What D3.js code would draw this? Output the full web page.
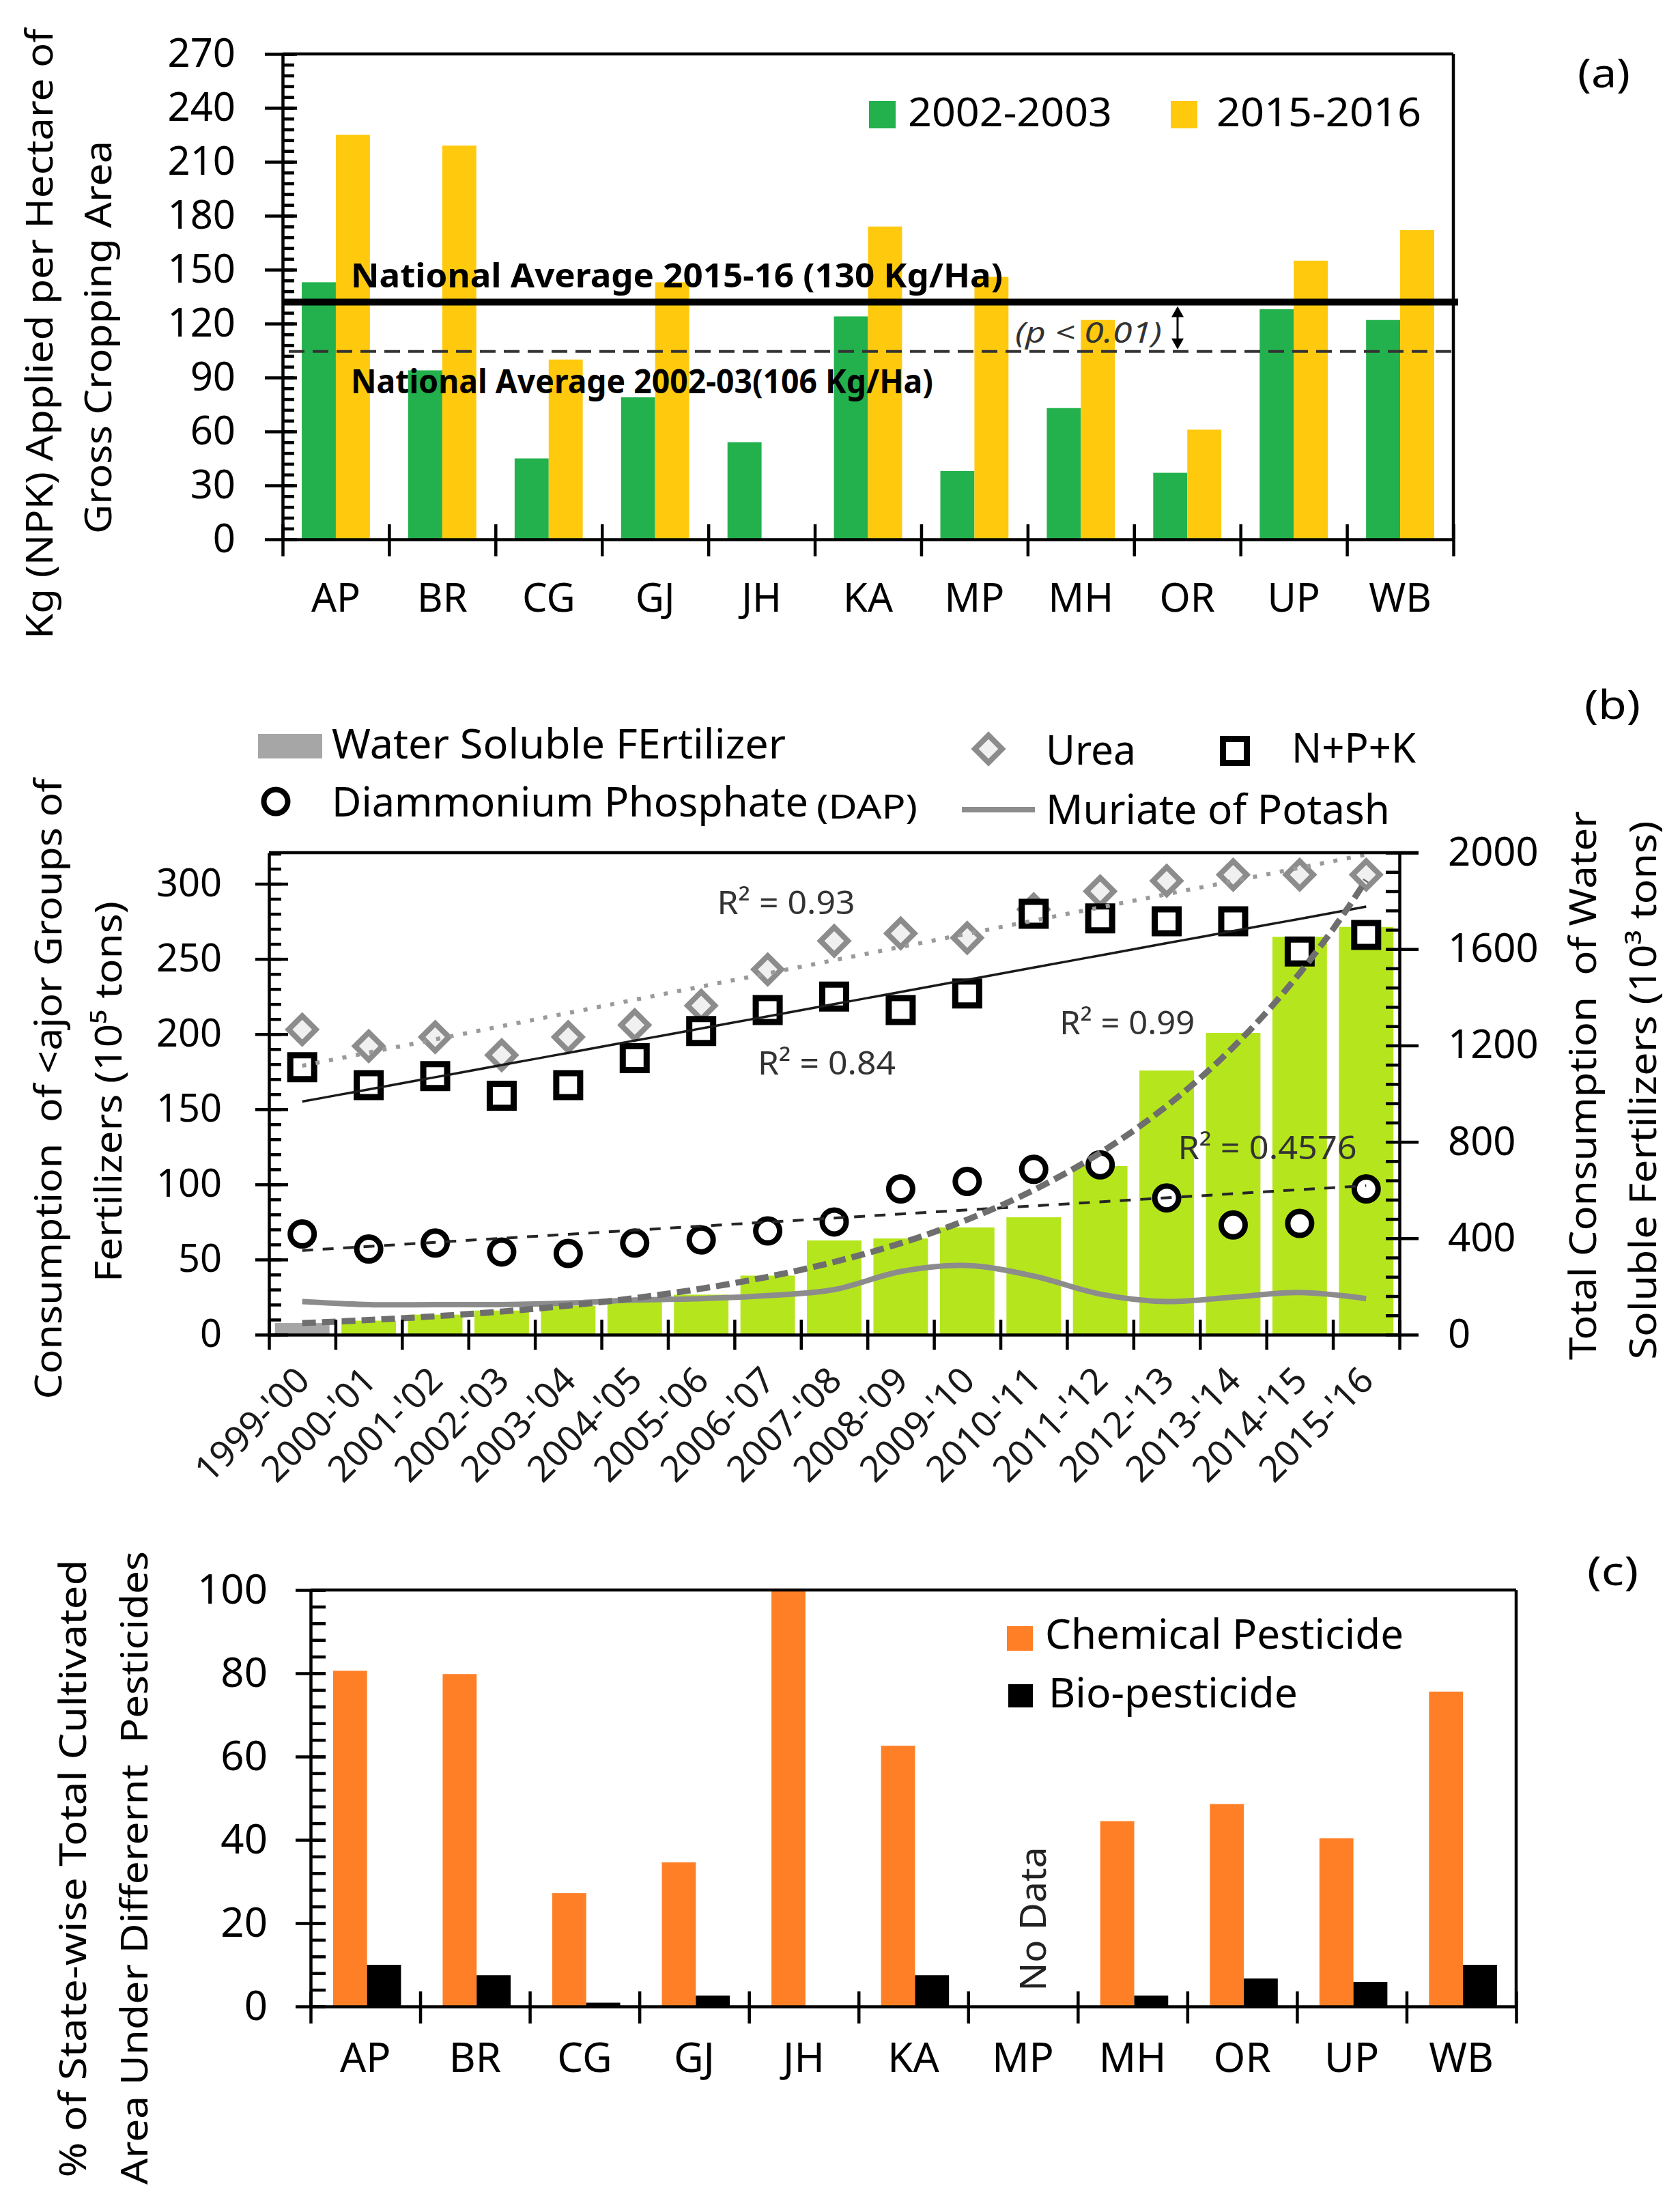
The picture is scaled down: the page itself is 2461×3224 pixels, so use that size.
<!DOCTYPE html>
<html>
<head>
<meta charset="utf-8">
<script src="https://cdn.jsdelivr.net/npm/d3@7"></script>
<style>
  body { margin: 0; background: #fff; }
  text { white-space: pre; }
</style>
</head>
<body>
<script>
// ---- panel (a): NPK per hectare, two periods
var statesA = ["AP", "BR", "CG", "GJ", "JH", "KA", "MP", "MH", "OR", "UP", "WB"];
var npk2002 = [143, 94, 45, 79, 54, 124, 38, 73, 37, 128, 122];
var npk2015 = [225, 219, 100, 143, null, 174, 146, 122, 61, 155, 172];
var ticksA = [0, 30, 60, 90, 120, 150, 180, 210, 240, 270];
var natAvg2015 = 132, natAvg2002 = 104.5;

// ---- panel (b): fertilizer consumption by year
var years = ["1999-'00", "2000-'01", "2001-'02", "2002-'03", "2003-'04", "2004-'05", "2005-'06",
  "2006-'07", "2007-'08", "2008-'09", "2009-'10", "2010-'11", "2011-'12", "2012-'13",
  "2013-'14", "2014-'15", "2015-'16"];
var waterSoluble = [48, 58, 83, 100, 120, 139, 166, 245, 391, 399, 445, 487, 700, 1096, 1252, 1651, 1692];
var urea = [203, 192, 198, 186, 198, 206, 219, 243, 262, 267, 264, 283, 295, 302, 306, 306, 306];
var npkTotal = [178, 166, 172, 159, 166, 184, 202, 216, 225, 216, 227, 280, 277, 275, 275, 255, 266];
var dap = [67, 57, 61, 55, 54, 61, 63, 69, 75, 97, 102, 110, 113, 91, 73, 74, 97];
var potash = [22, 20, 20, 20, 21, 23, 24, 26, 30, 42, 46, 39, 27, 22, 25, 28, 24];
var ticksBL = [0, 50, 100, 150, 200, 250, 300];
var ticksBR = [0, 400, 800, 1200, 1600, 2000];

// ---- panel (c): pesticide use by state
var statesC = ["AP", "BR", "CG", "GJ", "JH", "KA", "MP", "MH", "OR", "UP", "WB"];
var chemical = [80.6, 79.8, 27.2, 34.6, 100, 62.6, null, 44.5, 48.6, 40.4, 75.6];
var bio = [10, 7.5, 0.9, 2.6, null, 7.5, null, 2.6, 6.7, 5.9, 10];
var ticksC = [0, 20, 40, 60, 80, 100];

var FONT = "'Noto Sans', 'Open Sans', 'DejaVu Sans', sans-serif";
var GREEN = "#22b14c", YELLOW = "#ffc90e", LIME = "#b5e61d", ORANGE = "#ff7f27", GREY = "#a6a6a6";

var svg = d3.select("body").append("svg")
    .attr("width", 2461).attr("height", 3224)
    .style("background", "#fff");

function label(g, str, x, y, o) {
  o = o || {};
  var t = g.append("text").attr("x", x).attr("y", y).text(str)
      .attr("font-family", FONT)
      .attr("font-size", o.size || 56)
      .attr("fill", o.fill || "#000")
      .attr("text-anchor", o.anchor || "start");
  if (o.weight) t.attr("font-weight", o.weight);
  if (o.italic) t.attr("font-style", "italic");
  if (o.len) t.attr("textLength", o.len).attr("lengthAdjust", "spacingAndGlyphs");
  if (o.rotate) t.attr("transform", "rotate(" + o.rotate + "," + x + "," + y + ")");
  return t;
}

function styleAxis(g, size) {
  g.selectAll("path, line").attr("stroke", "#000").attr("stroke-width", 4.5);
  g.selectAll("text").attr("font-family", FONT).attr("font-size", size || 56).attr("fill", "#000");
  return g;
}

function noDomain(g) { g.select(".domain").remove(); return g; }

// y axis with major ticks crossing and minor ticks inside
function yAxisLeft(g, x, scale, majors, minors, out, inMajor, inMinor, pad, fsize) {
  styleAxis(g.append("g").attr("transform", "translate(" + x + ",0)")
    .call(d3.axisLeft(scale).tickValues(majors).tickSize(out).tickSizeOuter(0).tickPadding(pad)), fsize);
  styleAxis(noDomain(g.append("g").attr("transform", "translate(" + x + ",0)")
    .call(d3.axisRight(scale).tickValues(majors).tickSize(inMajor).tickFormat(""))));
  styleAxis(noDomain(g.append("g").attr("transform", "translate(" + x + ",0)")
    .call(d3.axisRight(scale).tickValues(minors).tickSize(inMinor).tickFormat(""))));
}

// category boundaries ticks crossing the x axis
function xBoundaryAxis(g, y, x0, x1, n, down, up) {
  var b = d3.scaleLinear().domain([0, n]).range([x0, x1]);
  styleAxis(g.append("g").attr("transform", "translate(0," + y + ")")
    .call(d3.axisBottom(b).tickValues(d3.range(n + 1)).tickSize(down).tickSizeOuter(0).tickFormat("")));
  styleAxis(noDomain(g.append("g").attr("transform", "translate(0," + y + ")")
    .call(d3.axisTop(b).tickValues(d3.range(n + 1)).tickSize(up).tickFormat(""))));
}

function frameLine(g, x1, y1, x2, y2) {
  g.append("line").attr("x1", x1).attr("y1", y1).attr("x2", x2).attr("y2", y2)
    .attr("stroke", "#000").attr("stroke-width", 4.5);
}

/* ================= panel (a) ================= */
(function panelA() {
  var g = svg.append("g");
  var L = 414, R = 2129, T = 79, B = 790;
  var x = d3.scaleBand().domain(statesA).range([L, R]);
  var y = d3.scaleLinear().domain([0, 270]).range([B, T]);
  var bw = x.bandwidth();
  var inner = d3.scaleBand().domain(["p1", "p2"]).range([0.18 * bw, 0.82 * bw]);

  var series = [
    {key: "p1", values: npk2002, color: GREEN},
    {key: "p2", values: npk2015, color: YELLOW}
  ];
  series.forEach(function(s) {
    g.append("g").selectAll("rect")
      .data(statesA.map(function(st, i) { return {st: st, v: s.values[i]}; }).filter(function(d) { return d.v != null; }))
      .join("rect")
      .attr("x", function(d) { return x(d.st) + inner(s.key); })
      .attr("width", inner.bandwidth())
      .attr("y", function(d) { return y(d.v); })
      .attr("height", function(d) { return B - y(d.v); })
      .attr("fill", s.color);
  });

  // national averages
  g.append("line").attr("x1", L).attr("x2", R + 7).attr("y1", y(natAvg2015)).attr("y2", y(natAvg2015))
    .attr("stroke", "#000").attr("stroke-width", 10);
  g.append("line").attr("x1", L + 9).attr("x2", R + 7).attr("y1", y(natAvg2002)).attr("y2", y(natAvg2002))
    .attr("stroke", "#333").attr("stroke-width", 4).attr("stroke-dasharray", "23 12");
  label(g, "National Average 2015-16 (130 Kg/Ha)", 514, 421, {size: 49, weight: "bold", len: 955});
  label(g, "National Average 2002-03(106 Kg/Ha)", 514, 576, {size: 49, weight: "bold", len: 853});

  // significance arrow
  var ax = 1725, ya = y(natAvg2015) + 6, yb = y(natAvg2002) - 3;
  g.append("line").attr("x1", ax).attr("x2", ax).attr("y1", ya + 10).attr("y2", yb - 10)
    .attr("stroke", "#000").attr("stroke-width", 3);
  g.append("path").attr("d", "M" + ax + "," + ya + "l-9,16h18z").attr("fill", "#000");
  g.append("path").attr("d", "M" + ax + "," + yb + "l-9,-16h18z").attr("fill", "#000");
  label(g, "(p < 0.01)", 1487, 502, {size: 42, italic: true, fill: "#333", len: 215});

  yAxisLeft(g, L, y, ticksA, d3.range(0, 271, 6), 26, 21, 17, 43, 58);
  xBoundaryAxis(g, B, L, R, statesA.length, 25, 22);
  var xl = g.append("g").attr("transform", "translate(0," + B + ")")
    .call(d3.axisBottom(x).tickSize(0).tickPadding(65));
  styleAxis(noDomain(xl), 58);
  frameLine(g, L, T, R, T);
  frameLine(g, R, T, R, B);

  // legend
  g.append("rect").attr("x", 1273).attr("y", 148).attr("width", 39).attr("height", 40).attr("fill", GREEN);
  label(g, "2002-2003", 1330, 185, {size: 58, len: 299});
  g.append("rect").attr("x", 1715).attr("y", 148).attr("width", 39).attr("height", 40).attr("fill", YELLOW);
  label(g, "2015-2016", 1782, 185, {size: 58, len: 300});

  label(g, "(a)", 2311, 128, {size: 58, len: 77});

  label(g, "Kg (NPK) Applied per Hectare of", 77, 489, {size: 54, anchor: "middle", rotate: -90, len: 894});
  label(g, "Gross Cropping Area", 163, 494, {size: 54, anchor: "middle", rotate: -90, len: 576});
})();

/* ================= panel (b) ================= */
(function panelB() {
  var g = svg.append("g");
  var L = 394, R = 2050, T = 1249, B = 1955;
  var x = d3.scaleBand().domain(years).range([L, R]);
  var bw = x.bandwidth();
  var yL = d3.scaleLinear().domain([0, 320.7]).range([B, T]);
  var yR = d3.scaleLinear().domain([0, 2000]).range([B, T]);
  var xi = d3.scaleLinear().domain([0, years.length - 1]).range([x(years[0]) + bw / 2, x(years[years.length - 1]) + bw / 2]);

  // water soluble fertilizer bars (right axis)
  g.append("g").selectAll("rect")
    .data(waterSoluble)
    .join("rect")
    .attr("x", function(d, i) { return x(years[i]) + 0.09 * bw; })
    .attr("width", 0.82 * bw)
    .attr("y", function(d) { return yR(d); })
    .attr("height", function(d) { return B - yR(d); })
    .attr("fill", function(d, i) { return i === 0 ? GREY : LIME; });

  // muriate of potash smooth line
  g.append("path")
    .datum(potash)
    .attr("d", d3.line().curve(d3.curveCatmullRom.alpha(0.5))
      .x(function(d, i) { return xi(i); }).y(function(d) { return yL(d); }))
    .attr("fill", "none").attr("stroke", "#8c8c8c").attr("stroke-width", 8);

  var diamond = d3.symbol().type(d3.symbolSquare).size(800);
  var square = d3.symbol().type(d3.symbolSquare).size(1225);

  g.append("g").selectAll("path").data(urea).join("path")
    .attr("d", diamond)
    .attr("transform", function(d, i) { return "translate(" + xi(i) + "," + yL(d) + ") rotate(45)"; })
    .attr("fill", "#f0f0f0").attr("stroke", "#8c8c8c").attr("stroke-width", 8);
  g.append("g").selectAll("path").data(npkTotal).join("path")
    .attr("d", square)
    .attr("transform", function(d, i) { return "translate(" + xi(i) + "," + yL(d) + ")"; })
    .attr("fill", "#fff").attr("stroke", "#000").attr("stroke-width", 9);
  g.append("g").selectAll("circle").data(dap).join("circle")
    .attr("cx", function(d, i) { return xi(i); })
    .attr("cy", function(d) { return yL(d); })
    .attr("r", 17.5)
    .attr("fill", "#fff").attr("stroke", "#000").attr("stroke-width", 8);

  // trend lines (least squares, as in the source spreadsheet)
  function linFit(v) {
    var n = v.length, mx = (n - 1) / 2, my = d3.mean(v), sxy = 0, sxx = 0;
    v.forEach(function(d, i) { sxy += (i - mx) * (d - my); sxx += (i - mx) * (i - mx); });
    var b = sxy / sxx, a = my - b * mx;
    return function(i) { return a + b * i; };
  }
  function expFit(v) {
    var f = linFit(v.map(Math.log));
    return function(i) { return Math.exp(f(i)); };
  }
  var steps = d3.range(0, years.length - 1 + 1e-9, 0.25);
  function trend(fn, scale, style) {
    g.append("path")
      .datum(steps)
      .attr("d", d3.line().x(function(i) { return xi(i); }).y(function(i) { return scale(fn(i)); }))
      .attr("fill", "none")
      .attr("stroke", style.color).attr("stroke-width", style.width)
      .attr("stroke-dasharray", style.dash || null)
      .attr("stroke-linecap", style.cap || "butt");
  }
  trend(linFit(urea), yL, {color: "#9a9a9a", width: 6, dash: "6 14"});
  trend(linFit(npkTotal), yL, {color: "#1a1a1a", width: 3.5});
  trend(linFit(dap), yL, {color: "#262626", width: 4, dash: "16 14"});
  trend(expFit(waterSoluble), yR, {color: "#6e6e6e", width: 9, dash: "20 9"});

  label(g, "R\u00b2 = 0.93", xi(6.24), yL(280), {size: 48, fill: "#333", len: 202});
  label(g, "R\u00b2 = 0.84", xi(6.85), yL(173), {size: 48, fill: "#333", len: 202});
  label(g, "R\u00b2 = 0.99", xi(11.39), yL(200), {size: 48, fill: "#333", len: 198});
  label(g, "R\u00b2 = 0.4576", xi(13.17), yL(116.8), {size: 48, fill: "#333", len: 262});

  // axes
  yAxisLeft(g, L, yL, ticksBL, d3.range(0, 321, 10), 20, 28, 18, 49, 56);
  styleAxis(g.append("g").attr("transform", "translate(" + R + ",0)")
    .call(d3.axisRight(yR).tickValues(ticksBR).tickFormat(d3.format("d"))
      .tickSize(28).tickSizeOuter(0).tickPadding(43)), 58);
  styleAxis(noDomain(g.append("g").attr("transform", "translate(" + R + ",0)")
    .call(d3.axisLeft(yR).tickValues(d3.range(0, 2001, 80)).tickSize(20).tickFormat(""))));
  xBoundaryAxis(g, B, L, R, years.length, 22, 22);
  var xl = g.append("g").attr("transform", "translate(0," + B + ")")
    .call(d3.axisBottom(x).tickSize(0));
  styleAxis(noDomain(xl), 53);
  xl.selectAll("text")
    .attr("x", 0).attr("y", 0).attr("dy", 0)
    .attr("text-anchor", "end")
    .attr("fill", "#1a1a1a")
    .attr("transform", "translate(14,70) rotate(-45)");
  frameLine(g, L, T, R + 28, T);

  // legend
  g.append("rect").attr("x", 378).attr("y", 1075).attr("width", 94).attr("height", 36).attr("fill", GREY);
  label(g, "Water Soluble FErtilizer", 486, 1111, {size: 60, len: 665});
  g.append("path").attr("d", diamond).attr("transform", "translate(1448,1097) rotate(45)")
    .attr("fill", "#f0f0f0").attr("stroke", "#8c8c8c").attr("stroke-width", 8);
  label(g, "Urea", 1532, 1120, {size: 60, len: 132});
  g.append("path").attr("d", square).attr("transform", "translate(1809,1100)")
    .attr("fill", "#fff").attr("stroke", "#000").attr("stroke-width", 9);
  label(g, "N+P+K", 1892, 1117, {size: 60, len: 182});
  g.append("circle").attr("cx", 404).attr("cy", 1174).attr("r", 17.5)
    .attr("fill", "#fff").attr("stroke", "#000").attr("stroke-width", 8);
  label(g, "Diammonium Phosphate", 486, 1196, {size: 60, len: 698});
  label(g, "(DAP)", 1196, 1199, {size: 50, len: 148});
  g.append("line").attr("x1", 1409).attr("x2", 1516).attr("y1", 1186).attr("y2", 1186)
    .attr("stroke", "#8c8c8c").attr("stroke-width", 8);
  label(g, "Muriate of Potash", 1532, 1207, {size: 60, len: 504});

  label(g, "(b)", 2321, 1053, {size: 58, len: 82});

  label(g, "Consumption  of <ajor Groups of", 90, 1595, {size: 54, anchor: "middle", rotate: -90, len: 909});
  label(g, "Fertilizers (10\u2075 tons)", 178, 1599, {size: 54, anchor: "middle", rotate: -90, len: 558});
  label(g, "Total Consumption  of Water", 2338, 1590, {size: 54, anchor: "middle", rotate: -90, len: 804});
  label(g, "Soluble Fertilizers (10\u00b3 tons)", 2426, 1597, {size: 54, anchor: "middle", rotate: -90, len: 789});
})();

/* ================= panel (c) ================= */
(function panelC() {
  var g = svg.append("g");
  var L = 455, R = 2221, T = 2329, B = 2939;
  var x = d3.scaleBand().domain(statesC).range([L, R]);
  var y = d3.scaleLinear().domain([0, 100]).range([B, T]);
  var bw = x.bandwidth();
  var inner = d3.scaleBand().domain(["chem", "bio"]).range([0.205 * bw, 0.825 * bw]);

  [{key: "chem", values: chemical, color: ORANGE}, {key: "bio", values: bio, color: "#000"}].forEach(function(s) {
    g.append("g").selectAll("rect")
      .data(statesC.map(function(st, i) { return {st: st, v: s.values[i]}; }).filter(function(d) { return d.v != null; }))
      .join("rect")
      .attr("x", function(d) { return x(d.st) + inner(s.key); })
      .attr("width", inner.bandwidth())
      .attr("y", function(d) { return y(d.v); })
      .attr("height", function(d) { return B - y(d.v); })
      .attr("fill", s.color);
  });

  label(g, "No Data", 1532, 2811, {size: 52, anchor: "middle", rotate: -90, fill: "#222", len: 211});

  yAxisLeft(g, L, y, ticksC, d3.range(0, 101, 4), 22, 22, 22, 41, 60);
  xBoundaryAxis(g, B, L, R, statesC.length, 25, 22);
  var xl = g.append("g").attr("transform", "translate(0," + B + ")")
    .call(d3.axisBottom(x).tickSize(0).tickPadding(53));
  styleAxis(noDomain(xl), 60);
  frameLine(g, L, T, R, T);
  frameLine(g, R, T, R, B);

  g.append("rect").attr("x", 1475).attr("y", 2382).attr("width", 38).attr("height", 36).attr("fill", ORANGE);
  label(g, "Chemical Pesticide", 1531, 2415, {size: 60, len: 525});
  g.append("rect").attr("x", 1477).attr("y", 2467).attr("width", 36).attr("height", 34).attr("fill", "#000");
  label(g, "Bio-pesticide", 1536, 2501, {size: 60, len: 365});

  label(g, "(c)", 2325, 2322, {size: 58, len: 75});

  label(g, "% of State-wise Total Cultivated", 126, 2737, {size: 54, anchor: "middle", rotate: -90, len: 905});
  label(g, "Area Under Differernt  Pesticides", 216, 2736, {size: 54, anchor: "middle", rotate: -90, len: 928});
})();
</script>
</body>
</html>
